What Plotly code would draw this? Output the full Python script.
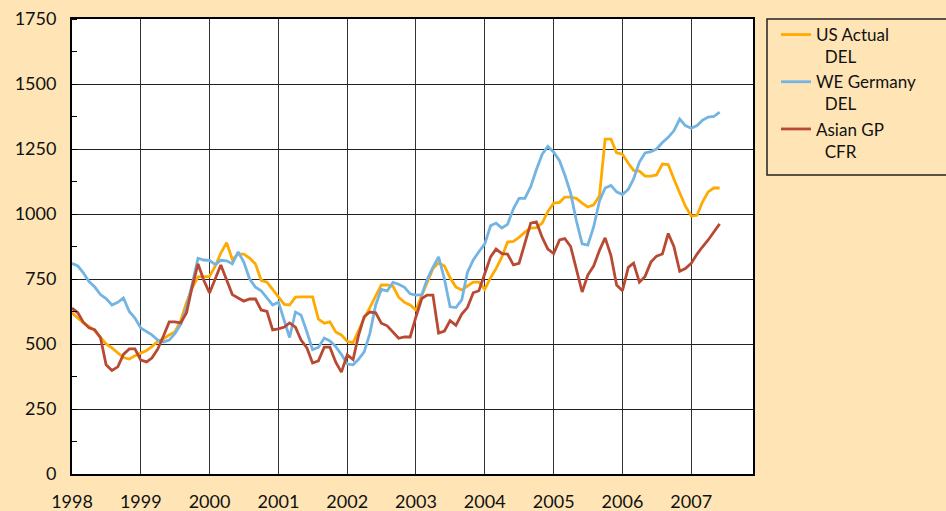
import pandas as pd
import plotly.graph_objects as go

months = pd.date_range("1998-01-01", periods=114, freq="MS")

us_actual_del = [
    620, 600, 582, 568, 552, 525, 500, 485, 465, 448, 442, 455,
    465, 475, 490, 510, 520, 535, 546, 590, 660, 715, 758, 758,
    760, 800, 850, 890, 825, 846, 846, 830, 808, 745, 738, 710,
    680, 652, 650, 680, 681, 681, 681, 596, 580, 585, 546, 535,
    510, 505, 550, 600, 640, 685, 727, 727, 722, 680, 660, 650,
    630, 688, 740, 790, 812, 800, 755, 719, 708, 723, 738, 738,
    710, 755, 790, 835, 892, 895, 910, 930, 946, 948, 965, 1010,
    1042, 1045, 1065, 1065, 1060, 1042, 1027, 1035, 1070, 1288, 1288, 1235,
    1230, 1195, 1168, 1165, 1146, 1146, 1150, 1192, 1190, 1135, 1085, 1030,
    992, 995, 1045, 1085, 1100, 1100,
]

we_germany_del = [
    810, 800, 775, 740, 720, 690, 675, 650, 660, 677, 625, 600,
    562, 546, 535, 515, 508, 515, 540, 575, 640, 730, 830, 823,
    822, 805, 822, 820, 808, 854, 815, 750, 718, 705, 677, 650,
    661, 585, 525, 623, 611, 546, 478, 487, 523, 512, 490, 460,
    423, 420, 440, 470, 540, 650, 710, 704, 737, 730, 718, 693,
    688, 690, 748, 795, 835, 750, 643, 640, 670, 775, 823, 855,
    885, 955, 965, 946, 960, 1020, 1060, 1060, 1105, 1170, 1230, 1260,
    1238, 1205, 1150, 1080, 975, 885, 880, 950, 1050, 1100, 1110, 1085,
    1075, 1095, 1135, 1200, 1235, 1240, 1250, 1275, 1295, 1320, 1365, 1340,
    1330, 1340, 1360, 1373, 1375, 1392,
]

asian_gp_cfr = [
    638, 620, 585, 562, 555, 525, 420, 398, 412, 460, 481, 481,
    438, 431, 446, 480, 530, 585, 585, 581, 620, 720, 808, 746,
    696, 750, 804, 746, 690, 677, 665, 673, 673, 631, 625, 554,
    558, 565, 581, 565, 515, 485, 427, 435, 488, 488, 430, 392,
    458, 440, 530, 605, 623, 620, 580, 570, 546, 522, 527, 527,
    605, 675, 688, 688, 542, 550, 590, 572, 615, 640, 697, 705,
    770, 835, 865, 848, 846, 804, 810, 890, 965, 970, 910, 865,
    848, 900, 905, 875, 785, 700, 765, 800, 860, 908, 840, 727,
    705, 795, 811, 738, 760, 815, 838, 846, 925, 875, 780, 790,
    810, 846, 873, 900, 931, 962,
]

series_names = ["US Actual<br>\u00a0\u00a0DEL", "WE Germany<br>\u00a0\u00a0DEL", "Asian GP<br>\u00a0\u00a0CFR"]
series_values = [us_actual_del, we_germany_del, asian_gp_cfr]
series_colors = ["#FFAA00", "#73B4E3", "#B84A33"]

y_ticks = [0, 250, 500, 750, 1000, 1250, 1500, 1750]
year_labels = ["1998", "1999", "2000", "2001", "2002", "2003", "2004", "2005", "2006", "2007"]

BG = "#FFE5B5"
FONT = "Lato"

fig = go.Figure()
for name, vals, col in zip(series_names, series_values, series_colors):
    fig.add_trace(go.Scatter(x=months, y=vals, mode="lines", name=name,
                             line=dict(color=col, width=2.8)))

fig.update_layout(
    width=946, height=511,
    paper_bgcolor=BG, plot_bgcolor="white",
    margin=dict(l=72, r=193, t=19, b=37, autoexpand=False),
    font=dict(family=FONT, size=18, color="#111"),
    showlegend=True,
    legend=dict(xref="container", yref="container",
                x=776 / 946, y=1 - 17 / 511, xanchor="left", yanchor="top",
                bgcolor="rgba(0,0,0,0)", borderwidth=0,
                font=dict(size=17, family=FONT, color="#111"), valign="top",
                itemwidth=30, tracegroupgap=0),
)

fig.update_xaxes(
    type="date", range=["1998-01-01", "2007-11-25"],
    tickmode="array",
    tickvals=[f"{y}-01-01" for y in year_labels], ticktext=year_labels,
    showgrid=True, gridcolor="#333", gridwidth=1,
    showline=True, linecolor="black", linewidth=2, mirror=True,
    ticks="", ticklabelstandoff=10, automargin=False,
    zeroline=False,
)
fig.update_yaxes(
    range=[0, 1750], tickvals=y_ticks,
    showgrid=True, gridcolor="#222", gridwidth=1,
    showline=True, linecolor="black", linewidth=2, mirror=True,
    ticks="", ticklabelstandoff=10, automargin=False,
    minor=dict(dtick=125, ticks="inside", ticklen=5, tickcolor="black", tickwidth=1, showgrid=False),
    zeroline=False,
)

# legend frame
fig.add_shape(type="rect", xref="paper", yref="paper",
              x0=(767 - 72) / 681, x1=(960 - 72) / 681,
              y0=(474 - 175) / 455, y1=(474 - 19) / 455,
              line=dict(color="#222", width=1.5), fillcolor="rgba(0,0,0,0)", layer="above")

fig.write_html(
    "out.html",
    config={"displayModeBar": False},
    post_script="document.body.style.margin='0';document.body.style.padding='0';"
                "document.body.style.background='" + BG + "';",
)
